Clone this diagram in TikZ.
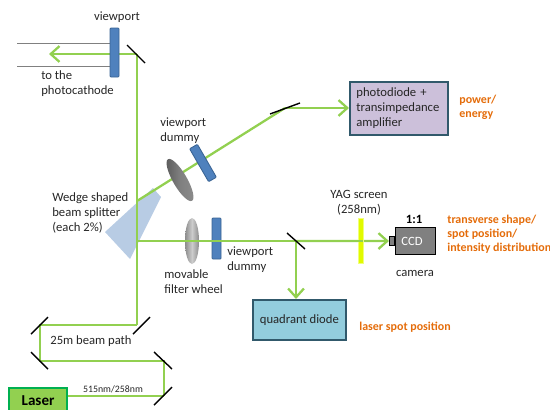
\documentclass[tikz,border=0pt]{standalone}
\usepackage{fontspec}
\setmainfont{Carlito}
\usetikzlibrary{arrows.meta}
\definecolor{beamgreen}{HTML}{92D050}
\definecolor{portblue}{HTML}{4F81BD}
\definecolor{portedge}{HTML}{3A6494}
\definecolor{wedgeblue}{HTML}{B8CCE4}
\definecolor{boxedge}{HTML}{31596B}
\definecolor{labelorange}{HTML}{E46C0A}
\definecolor{photofill}{HTML}{CCC0DA}
\definecolor{quadfill}{HTML}{93CDDD}
\definecolor{laseredge}{HTML}{00B050}
\definecolor{yagedge}{HTML}{F0FF78}
\definecolor{yagfill}{HTML}{E1FA00}
\tikzset{
    beam/.style={draw=beamgreen,line width=1.3pt},
    beamarrow/.style={beam,-{Straight Barb[length=5pt,width=9pt,line width=1.3pt]}},
    thinbeam/.style={draw=beamgreen,line width=1pt},
    mirror/.style={draw=black,line width=0.8pt},
    txt/.style={font=\fontsize{7.2}{8.5}\selectfont,text=black!85,align=left,inner sep=0pt},
    result/.style={txt,font=\fontsize{6.8}{8}\selectfont\bfseries,text=labelorange,anchor=west},
    viewport/.style={draw=portedge,fill=portblue,line width=0.5pt,rounded corners=0.5pt},
    instrument/.style={draw=boxedge,line width=1pt,txt,inner sep=0pt,anchor=north west},
}
\begin{document}
\begin{tikzpicture}[x=0.02cm,y=-0.02cm]
	\clip (0,0) rectangle (550,409);

	\coordinate (top) at (137,54);
	\coordinate (split1) at (137,201);
	\coordinate (split2) at (137,241);
	\coordinate (m1) at (285,108);
	\coordinate (m2) at (296,241);
	\coordinate (r1) at (137,325);
	\coordinate (l1) at (40,325);
	\coordinate (l2) at (40,361);
	\coordinate (r2) at (164,361);
	\coordinate (r3) at (164,396);

	\fill[wedgeblue] (105,232) -- (130,259) -- (161,197) -- (153,188) -- cycle;

	\node[instrument,fill=photofill,minimum width=1.96cm,minimum height=1.06cm,text width=1.7cm] (photo) at (349,81) {photodiode +\\transimpedance\\amplifier};
	\node[instrument,fill=quadfill,minimum width=1.86cm,minimum height=0.8cm,align=center] (quad) at (252,299) {quadrant diode};
	\node[draw=laseredge,line width=1.2pt,fill=beamgreen,minimum width=1.16cm,minimum height=0.62cm,anchor=north west,inner sep=0pt,font=\fontsize{8.6}{10}\selectfont\bfseries] (laser) at (8,387) {\raisebox{3.5pt}{Laser}};
	\node[draw=black,line width=0.6pt,fill=black!50,minimum width=0.8cm,minimum height=0.54cm,anchor=north west,inner sep=0pt,font=\fontsize{7.2}{9}\selectfont,text=white] (ccd) at (395,227) {\hspace*{-4pt}CCD};
	\node[draw=black,line width=0.6pt,fill=black!50,minimum width=0.1cm,minimum height=0.18cm,anchor=east,inner sep=0pt] (lens) at (ccd.west) {};

	\draw[gray,line width=0.5pt] (17,43.5) -- (110,43.5) (17,66) -- (110,66);

	\shade[left color=black!45,right color=black!45,middle color=black!20] (192,241) ellipse (7 and 23);
	\draw[viewport] (212,218) rectangle (221,259);

	\draw[beam] (split1) -- (m1);
	\draw[beamarrow] (m1) -- (m1-|photo.west);
	\draw[beam] (r1) -- (top);
	\draw[beamarrow] (top) -- (49,54);
	\draw[beam] (split2) -- (m2);
	\draw[beamarrow] (m2) -- (lens.west);
	\draw[beamarrow] (m2) -- (m2|-quad.north);
	\draw[beam] (r1) -- (l1) -- (l2) -- (r2) -- (r3);
	\draw[thinbeam] (laser.east|-r3) -- (r3);

	\draw[mirror] (127,45) -- (145,63);
	\draw[mirror] (270,114) -- (300,103);
	\draw[mirror] (287,233) -- (305,249);
	\draw[mirror] (31,334) -- (48,317);
	\draw[mirror] (133,334) -- (150,317);
	\draw[mirror] (31,352) -- (48,369);
	\draw[mirror] (154,352) -- (172,369);
	\draw[mirror] (154,405) -- (172,387);

	\draw[viewport] (110,28) rectangle (119,77);
	\draw[viewport,rotate around={30:(203,163)}] (198.5,144) rectangle (207.5,182);

	\shade[rotate around={30:(180,180)},left color=black!65,right color=black!45,middle color=black!50] (180,180) ellipse (7 and 24);

	\draw[draw=yagedge,fill=yagfill,line width=0.5pt] (358,218) rectangle (363,263);
	\draw[beam] (358,241) -- (363,241);

	\node[txt,anchor=center] (vp) at (117,17) {viewport};
	\node[txt,anchor=west] (cath) at (41,83.5) {to the\\photocathode};
	\node[txt,anchor=west] (vd1) at (160,130.5) {viewport\\dummy};
	\node[txt,anchor=west] (wedge) at (52,213) {Wedge shaped\\beam splitter\\(each 2\%)};
	\node[txt,anchor=west] (wheel) at (164,281.5) {movable\\filter wheel};
	\node[txt,anchor=west] (vd2) at (227,259.5) {viewport\\dummy};
	\node[txt,anchor=west] (path) at (50,341) {25m beam path};
	\node[txt,font=\fontsize{5.6}{7}\selectfont,anchor=center] (wave) at (113,389.5) {515nm/258nm};
	\node[txt,anchor=center,align=center] (yag) at (359,202.5) {YAG screen\\(258nm)};
	\node[txt,font=\fontsize{7.2}{9}\selectfont\bfseries,text=black,anchor=center] (ratio) at (414,219.5) {1:1};
	\node[txt,anchor=center] (cam) at (415,273) {camera};

	\node[result] (power) at (459,107.5) {power/\\energy};
	\node[result] (shape) at (447,234) {transverse shape/\\spot position/\\intensity distribution};
	\node[result] (spot) at (359,327) {laser spot position};
\end{tikzpicture}
\end{document}
